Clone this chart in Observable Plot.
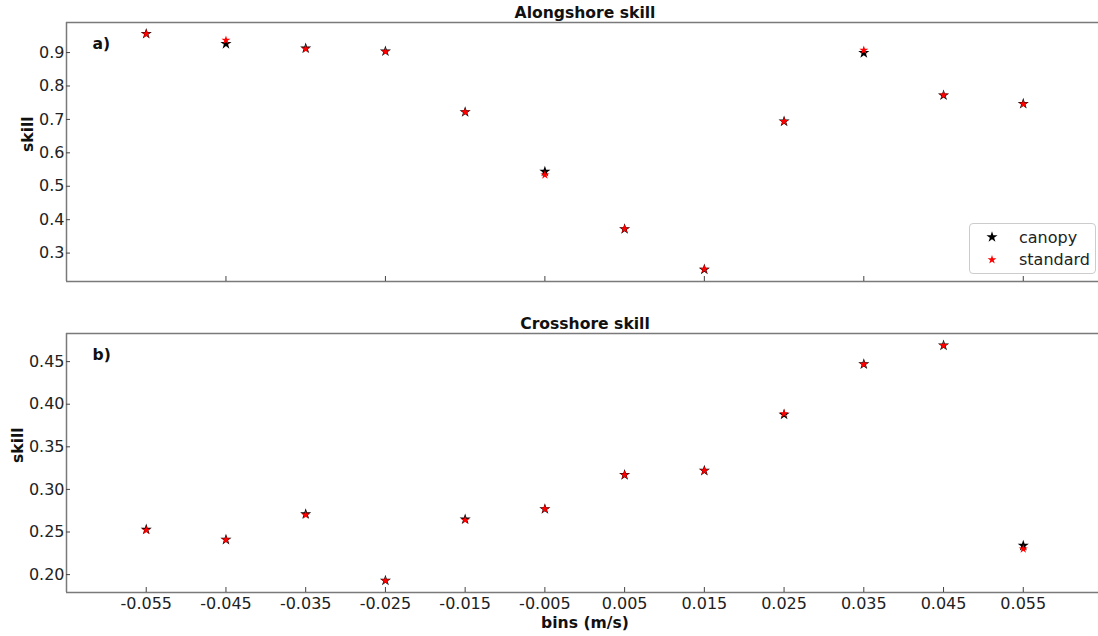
<!DOCTYPE html>
<html><head><meta charset="utf-8">
<script src="https://cdn.jsdelivr.net/npm/d3@7"></script>
<script src="https://cdn.jsdelivr.net/npm/@observablehq/plot@0.6"></script>
<style>
body{margin:0;background:#fff;font-family:"DejaVu Sans",sans-serif;}
#wrap{position:relative;width:1098px;height:636px;overflow:hidden;background:#fff;}
#top,#bot{position:absolute;left:0;}
#top{top:0}
#bot{top:300px}
#legend{position:absolute;left:969px;top:223px;width:125px;height:49px;border:1px solid #ccc;border-radius:4px;background:rgba(255,255,255,0.9);}
</style></head><body>
<div id="wrap"><div id="top"></div><div id="bot"></div><div id="legend"></div></div>
<script>
// ---- data ----
const bins = [-0.055, -0.045, -0.035, -0.025, -0.015, -0.005, 0.005, 0.015, 0.025, 0.035, 0.045, 0.055];
const alongCanopy   = [0.956, 0.926, 0.913, 0.904, 0.722, 0.544, 0.372, 0.251, 0.694, 0.899, 0.772, 0.747];
const alongStandard = [0.956, 0.937, 0.911, 0.903, 0.722, 0.534, 0.372, 0.252, 0.694, 0.907, 0.773, 0.746];
const crossCanopy   = [0.253, 0.241, 0.271, 0.193, 0.265, 0.277, 0.317, 0.322, 0.388, 0.447, 0.469, 0.234];
const crossStandard = [0.252, 0.241, 0.270, 0.193, 0.264, 0.277, 0.317, 0.322, 0.389, 0.447, 0.469, 0.230];
const seriesNames = ["canopy", "standard"];
const seriesColors = ["black", "red"];
const alongYTicks = [0.3, 0.4, 0.5, 0.6, 0.7, 0.8, 0.9];
const crossYTicks = [0.20, 0.25, 0.30, 0.35, 0.40, 0.45];
const xTickValues = [-0.055, -0.045, -0.035, -0.025, -0.015, -0.005, 0.005, 0.015, 0.025, 0.035, 0.045, 0.055];
const topXTicks = [-0.045, -0.025, -0.005, 0.015, 0.035, 0.055];
const titles = ["Alongshore skill", "Crosshore skill"];
const panelLabels = ["a)", "b)"];

// ---- helpers ----
const W = 1098, ML = 66;
const xDomain = [-0.065, 0.065];
const xRange = [66, 1102.5];
const frameColor = "#7a7a7a";
const rBlack = 3.5, rRed = 2.8;
const FS = 16, FSB = 15.6;

function panel({canopy, standard, yDomain, yTicks, yFmt, height, mt, mb, title, label, xTicks, xLabels, ylabDx, titleDy}) {
  const rows = bins.map((b, i) => ({bin: b, canopy: canopy[i], standard: standard[i]}));
  const fh = height - mt - mb;
  const fw = W - ML;
  const marks = [
    Plot.ruleX([xDomain[0]], {stroke: frameColor, strokeWidth: 1.5}),
    Plot.ruleY([yDomain[0], yDomain[1]], {stroke: frameColor, strokeWidth: 1.5}),
    Plot.tickY(yTicks, {y: d => d, stroke: "#444", insetRight: fw - 4}),
    Plot.tickX(xTicks, {x: d => d, stroke: "#444", insetTop: fh - 5}),
    Plot.axisY({ticks: yTicks, tickSize: 0, tickPadding: 2, tickFormat: yFmt, label: null, fill: "#222", fontSize: FS}),
    Plot.dot(rows, {x: "bin", y: "canopy", symbol: "star", r: rBlack, fill: seriesColors[0], stroke: "none"}),
    Plot.dot(rows, {x: "bin", y: "standard", symbol: "star", r: rRed, fill: seriesColors[1], stroke: "none"}),
    Plot.text([title], {frameAnchor: "top", lineAnchor: "middle", dx: 2.5, dy: titleDy, fontWeight: "bold", fill: "#111", fontSize: FSB}),
    Plot.text([label], {frameAnchor: "top-left", lineAnchor: "middle", dx: 26, dy: 21, textAnchor: "start", fontWeight: "bold", fill: "#111", fontSize: FSB}),
    Plot.text(["skill"], {frameAnchor: "left", lineAnchor: "middle", dx: ylabDx, rotate: -90, fontWeight: "bold", fill: "#111", fontSize: FSB})
  ];
  if (xLabels) {
    marks.push(Plot.axisX({ticks: xTicks, tickSize: 0, tickPadding: 5, tickFormat: d => d.toFixed(3), label: null, fill: "#222", fontSize: FS}));
    marks.push(Plot.text(["bins (m/s)"], {frameAnchor: "bottom", lineAnchor: "middle", dx: 2.5, dy: 30, fontWeight: "bold", fill: "#111", fontSize: FSB}));
  }
  return Plot.plot({
    width: W, height,
    marginLeft: ML, marginRight: 0, marginTop: mt, marginBottom: mb,
    style: {fontFamily: "DejaVu Sans", fontSize: FS + "px", color: "#222", background: "transparent", overflow: "visible"},
    x: {domain: xDomain, range: xRange, axis: null},
    y: {domain: yDomain, axis: null},
    marks
  });
}

document.getElementById("top").append(panel({
  canopy: alongCanopy, standard: alongStandard,
  yDomain: [0.215, 0.99], yTicks: alongYTicks, yFmt: d => d.toFixed(1),
  height: 300, mt: 22, mb: 19, title: titles[0], label: panelLabels[0],
  xTicks: topXTicks, xLabels: false, ylabDx: -39, titleDy: -10
}));
document.getElementById("bot").append(panel({
  canopy: crossCanopy, standard: crossStandard,
  yDomain: [0.179, 0.483], yTicks: crossYTicks, yFmt: d => d.toFixed(2),
  height: 336, mt: 33, mb: 44, title: titles[1], label: panelLabels[1],
  xTicks: xTickValues, xLabels: true, ylabDx: -49, titleDy: -10
}));

// ---- legend ----
const lg = d3.select("#legend").append("svg").attr("width", 125).attr("height", 49)
  .style("font-family", "DejaVu Sans").style("font-size", FS + "px");
const sizes = [Math.PI * rBlack * rBlack, Math.PI * rRed * rRed];
seriesNames.forEach((name, i) => {
  const y = 13 + i * 22.7;
  lg.append("path").attr("d", d3.symbol(d3.symbolStar, sizes[i])()).attr("transform", `translate(22,${y})`).attr("fill", seriesColors[i]);
  lg.append("text").attr("x", 49).attr("y", y).attr("dominant-baseline", "central").attr("fill", "#222").text(name);
});
</script>
</body></html>
